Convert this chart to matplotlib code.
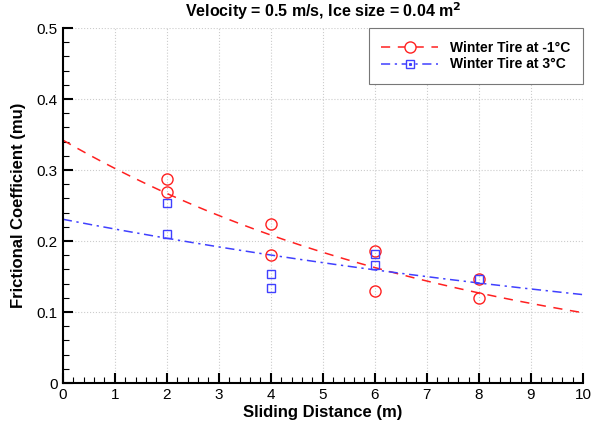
import numpy as np
import matplotlib
matplotlib.use("Agg")
import matplotlib.pyplot as plt
from matplotlib.ticker import MultipleLocator
from matplotlib.lines import Line2D
from matplotlib.legend_handler import HandlerTuple

plt.rcParams['font.family'] = ['Liberation Sans', 'DejaVu Sans']

title = "Velocity = 0.5 m/s, Ice size = 0.04 m$^\\mathbf{2}$"
xlabel = "Sliding Distance (m)"
ylabel = "Frictional Coefficient (mu)"
label_cold = "Winter Tire at -1\u00b0C"
label_warm = "Winter Tire at 3\u00b0C"

x_cold = [2, 2, 4, 4, 6, 6, 8, 8]
y_cold = [0.287, 0.269, 0.224, 0.180, 0.186, 0.130, 0.146, 0.120]
x_warm = [2, 2, 4, 4, 6, 6, 8]
y_warm = [0.253, 0.210, 0.154, 0.134, 0.182, 0.166, 0.146]

# exponential trend lines fitted to the data
x_fit = np.linspace(0, 10, 200)
bc = np.polyfit(x_cold, np.log(y_cold), 1)
bw = np.polyfit(x_warm, np.log(y_warm), 1)
fit_cold = np.exp(np.polyval(bc, x_fit))
fit_warm = np.exp(np.polyval(bw, x_fit))

fig = plt.figure(figsize=(5.93, 4.22), dpi=100)
ax = fig.add_axes([0.106, 0.0924, 0.877, 0.841])

red = '#ff2020'
blue = '#4040ff'
dash_red = (6, 5)
dash_blue = (6, 3, 1.5, 3)
ax.plot(x_fit, fit_cold, color=red, lw=1.1, dashes=dash_red)
ax.plot(x_fit, fit_warm, color=blue, lw=1.1, dashes=dash_blue)
ax.plot(x_cold, y_cold, 'o', ms=8, mfc='none', mec=red, mew=1.0)
ax.plot(x_warm, y_warm, 's', ms=6, mfc='none', mec=blue, mew=1.0)

h1 = Line2D([], [], color=red, lw=1.1, dashes=dash_red, marker='o', ms=8, mfc='white', mec=red)
h2 = Line2D([], [], color=blue, lw=1.1, dashes=dash_blue, marker='s', ms=6, mfc='white', mec=blue)
h2d = Line2D([], [], ls='none', marker='s', ms=1.2, mfc=blue, mec=blue)
leg = ax.legend([h1, (h2, h2d)], [label_cold, label_warm], loc='upper right',
                handler_map={tuple: HandlerTuple(ndivide=1, pad=0)},
                fancybox=False, edgecolor='#777777', framealpha=1, handlelength=4.1,
                handletextpad=0.85, prop={'weight': 'bold', 'size': 10}, borderpad=0.9,
                labelspacing=0.2, bbox_to_anchor=(1.0, 1.0), borderaxespad=0.0)
leg.get_frame().set_linewidth(0.8)

ax.set_xlim(0, 10)
ax.set_ylim(0, 0.5)
ax.xaxis.set_major_locator(MultipleLocator(1))
ax.xaxis.set_minor_locator(MultipleLocator(0.2))
ax.yaxis.set_minor_locator(MultipleLocator(0.02))
ax.set_yticks([0, 0.1, 0.2, 0.3, 0.4, 0.5])
ax.set_yticklabels(['0', '0.1', '0.2', '0.3', '0.4', '0.5'])
ax.tick_params(which='major', direction='in', length=7, width=1.5, labelsize=11)
ax.tick_params(which='minor', direction='in', length=4, width=0.8)
ax.spines['top'].set_visible(False)
ax.spines['right'].set_visible(False)
ax.spines['left'].set_linewidth(1.5)
ax.spines['bottom'].set_linewidth(1.5)
ax.grid(True, which='major', ls=':', color='#cccccc', lw=0.8)
ax.set_axisbelow(True)

ax.set_title(title, fontsize=11.5, fontweight='bold', pad=8)
ax.set_xlabel(xlabel, fontsize=12, fontweight='bold', labelpad=2)
ax.set_ylabel(ylabel, fontsize=12, fontweight='bold', labelpad=8)

fig.savefig('out.png', dpi=100)
